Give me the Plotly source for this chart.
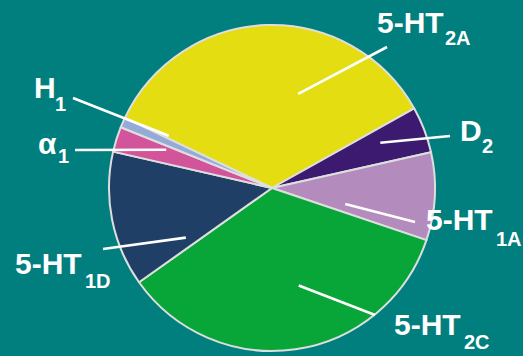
import math
import plotly.graph_objects as go

# Receptor share of binding (percent), in clockwise order from the H1/5-HT2A edge
receptors = ["5-HT2A", "D2", "5-HT1A", "5-HT2C", "5-HT1D", "α1", "H1"]
shares = [34.8, 4.6, 8.7, 35.0, 13.4, 2.5, 1.0]
label_main = ["5-HT", "D", "5-HT", "5-HT", "5-HT", "α", "H"]
label_sub = ["2A", "2", "1A", "2C", "1D", "1", "1"]
colors = ["#e4dd12", "#3b1a70", "#b38bbd", "#08a538", "#203f67", "#d2559b", "#93abd6"]

W, H = 523, 356
BG = "#007f7e"

# Pie placement in pixels
cx, cy, R = 272, 188, 163
start_deg = 154.5  # math angle of the first slice's leading edge

# Label styling / placement: (main left x, main mid y, sub left x, sub mid y,
# leader angle offset from slice middle, leader inner radius fraction, leader outer end)
label_layout = {
    "5-HT2A": (375, 22, 443, 38, -17.4, 0.60, (387, 47)),
    "D2": (458, 131, 480, 145.5, 1.7, 0.72, (450, 136)),
    "5-HT1A": (424, 219, 494, 239, -9.4, 0.46, (415, 222)),
    "5-HT2C": (392, 324, 462, 342, 7.0, 0.62, (375, 315)),
    "5-HT1D": (13, 263, 83, 281, 18.7, 0.61, (103, 249)),
    "α1": (36, 143, 56, 156, -2.5, 0.69, (75, 150)),
    "H1": (32, 87.5, 53, 104, -3.1, 0.71, (73, 98)),
}

FONT = "Liberation Sans, Arial, sans-serif"

fig = go.Figure()
fig.add_trace(go.Pie(
    labels=receptors,
    values=shares,
    sort=False,
    direction="clockwise",
    rotation=90 - start_deg,
    marker=dict(colors=colors, line=dict(color="#dedede", width=2)),
    textinfo="none",
    hoverinfo="label+percent",
    showlegend=False,
    domain=dict(x=[(cx - R) / W, (cx + R) / W],
                y=[(H - (cy + R)) / H, (H - (cy - R)) / H]),
))


def px(x, y):
    return x / W, 1 - y / H


shapes = []
annotations = []
total = sum(shares)
edge = start_deg
for name, val, main, sub in zip(receptors, shares, label_main, label_sub):
    span = 360 * val / total
    mid = edge - span / 2
    edge -= span
    mx, my, sx, sy, dang, rfrac, outer = label_layout[name]
    a = math.radians(mid + dang)
    ix = cx + rfrac * R * math.cos(a)
    iy = cy - rfrac * R * math.sin(a)
    x0, y0 = px(ix, iy)
    x1, y1 = px(*outer)
    shapes.append(dict(type="line", xref="paper", yref="paper", layer="above",
                       x0=x0, y0=y0, x1=x1, y1=y1,
                       line=dict(color="white", width=2.6)))
    ax_, ay_ = px(mx, my)
    annotations.append(dict(text=main, xref="paper", yref="paper", x=ax_, y=ay_,
                            xanchor="left", yanchor="middle", showarrow=False,
                            font=dict(family=FONT, size=30, color="white", weight="bold")))
    bx, by = px(sx, sy)
    annotations.append(dict(text=sub, xref="paper", yref="paper", x=bx, y=by,
                            xanchor="left", yanchor="middle", showarrow=False,
                            font=dict(family=FONT, size=20, color="white", weight="bold")))

fig.update_layout(
    width=W, height=H,
    margin=dict(l=0, r=0, t=0, b=0),
    paper_bgcolor=BG, plot_bgcolor=BG,
    shapes=shapes, annotations=annotations,
)

fig.write_html("out.html")
